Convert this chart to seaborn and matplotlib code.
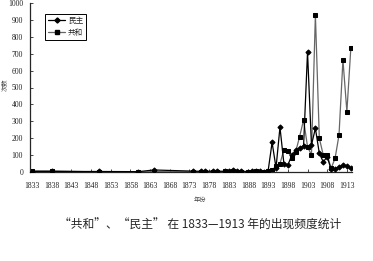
import matplotlib
matplotlib.use("Agg")
import matplotlib.pyplot as plt
import seaborn as sns
import pandas as pd
from matplotlib.lines import Line2D

years = [1833, 1838, 1850, 1860, 1864, 1874, 1876, 1877, 1879, 1880,
         1882, 1883, 1884, 1885, 1886, 1888, 1889, 1890, 1891, 1892,
         1893, 1894, 1895, 1896, 1897, 1898, 1899, 1900, 1901, 1902,
         1903, 1904, 1905, 1906, 1907, 1908, 1909, 1910, 1911, 1912,
         1913, 1914]
minzhu = [2, 3, 3, 2, 12, 5, 4, 3, 6, 5,
          4, 8, 14, 8, 5, 2, 3, 7, 3, 2,
          8, 175, 25, 265, 50, 40, 100, 130, 140, 155,
          710, 160, 258, 110, 60, 90, 15, 20, 30, 40,
          35, 25]
gonghe = [8, 7, 0, 0, 2, 1, 0, 1, 2, 1,
          3, 2, 5, 2, 1, 0, 1, 3, 1, 0,
          3, 10, 35, 50, 130, 125, 80, 120, 210, 308,
          150, 100, 930, 200, 100, 100, 22, 81, 219, 663,
          357, 732]
xticks = list(range(1833, 1914, 5))
yticks = list(range(0, 1001, 100))

df = pd.DataFrame({"year": years, "民主": minzhu, "共和": gonghe})

sns.set_style("ticks")
plt.rcParams['font.family'] = ['Liberation Serif', 'Noto Sans CJK SC', 'DejaVu Sans']

fig = plt.figure(figsize=(3.73, 2.61), dpi=100)
ax = fig.add_axes([30/373, 1-172/261, 322/373, 169/261])

sns.lineplot(data=df, x="year", y="共和", ax=ax, color="#666666", lw=0.9,
             marker="s", markersize=3, markerfacecolor="black",
             markeredgecolor="black", zorder=2)
sns.lineplot(data=df, x="year", y="民主", ax=ax, color="black", lw=0.9,
             marker="D", markersize=2.6, markerfacecolor="black",
             markeredgecolor="black", zorder=3)

ax.set_xlim(1832.5, 1914.3)
ax.set_ylim(0, 1000)
ax.set_xticks(xticks)
ax.set_xticklabels([str(t) for t in xticks], fontsize=5.5, color="#222222")
ax.set_yticks(yticks)
ax.set_yticklabels([str(t) for t in yticks], fontsize=5.5, color="#222222")
ax.tick_params(axis="x", direction="in", length=2, width=0.6, pad=7)
ax.tick_params(axis="y", direction="in", length=2, width=0.6, pad=5)
ax.set_xlabel("")
ax.set_ylabel("")
for s in ["top", "right"]:
    ax.spines[s].set_visible(False)
for s in ["left", "bottom"]:
    ax.spines[s].set_linewidth(0.9)

handles = [
    Line2D([], [], color="black", lw=0.9, marker="D", markersize=2.6),
    Line2D([], [], color="#666666", lw=0.9, marker="s", markersize=3,
           markerfacecolor="black", markeredgecolor="black"),
]
leg = ax.legend(handles, ["民主", "共和"], loc="upper left",
                bbox_to_anchor=(0.047, 0.935), borderaxespad=0,
                fancybox=False, edgecolor="black", framealpha=1,
                prop={"family": "Noto Sans CJK SC", "size": 5.5},
                handlelength=2.2, borderpad=0.4, labelspacing=0.5,
                handletextpad=0.4)
leg.get_frame().set_linewidth(0.7)

fig.text(5/373, 1-85/261, "次数", rotation=90, ha="center", va="center",
         fontsize=4.5, family="Noto Sans CJK SC", color="#444444")
fig.text(200/373, 1-200/261, "年份", ha="center", va="center",
         fontsize=4.5, family="Noto Sans CJK SC", color="#444444")
fig.text(200/373, 1-225/261, "“共和”、“民主” 在 1833—1913 年的出现频度统计",
         ha="center", va="center", fontsize=8.5, family="Noto Sans CJK SC")

fig.savefig("out.png", dpi=100)
